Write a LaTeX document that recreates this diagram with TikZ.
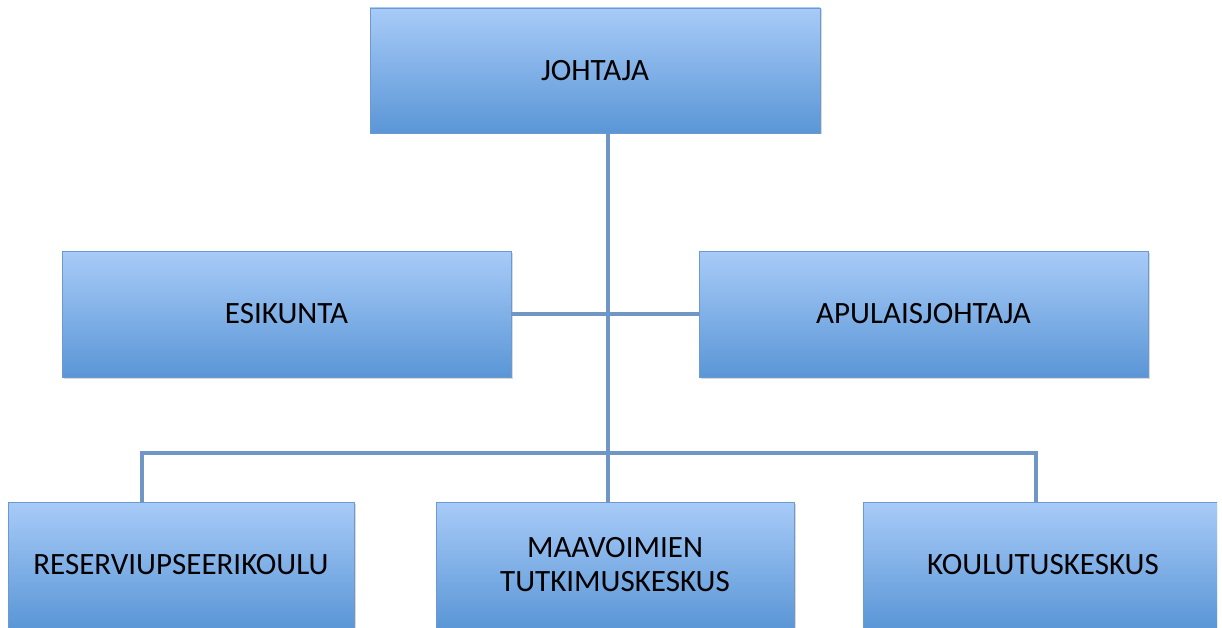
\documentclass[tikz,border=0pt]{standalone}
\usepackage{fontspec}
\setmainfont{Carlito}
\usetikzlibrary{shadows}
\definecolor{boxtop}{HTML}{A8CBF8}
\definecolor{boxbot}{HTML}{5A96D6}
\definecolor{boxline}{HTML}{6C9AD0}
\definecolor{conn}{HTML}{7096C6}
\tikzset{
  orgbox/.style={rectangle, draw=boxline, line width=0.8pt, top color=boxtop, bottom color=boxbot,
    drop shadow={shadow xshift=1.5pt, shadow yshift=-1.5pt, opacity=0.3},
    align=center, font=\fontsize{31}{34}\selectfont, text=black, inner sep=0pt},
  conline/.style={draw=conn, line width=3.5pt}
}
\begin{document}
\begin{tikzpicture}[x=1pt,y=-1pt]
\useasboundingbox (0,0) rectangle (1222,628);
\clip (0,0) rectangle (1217,628);
\node[orgbox, minimum width=450pt, minimum height=125pt] (J) at (595,70.5) {JOHTAJA};
\node[orgbox, minimum width=449pt, minimum height=126pt] (E) at (286.5,314) {ESIKUNTA};
\node[orgbox, minimum width=449pt, minimum height=126pt] (A) at (923.5,314) {APULAISJOHTAJA};
\node[orgbox, minimum width=346pt, minimum height=126pt] (R) at (181,565) {RESERVIUPSEERIKOULU};
\node[orgbox, minimum width=358pt, minimum height=126pt] (M) at (615,565) {MAAVOIMIEN\\TUTKIMUSKESKUS};
\node[orgbox, minimum width=360pt, minimum height=126pt] (K) at (1043,565) {KOULUTUSKESKUS};
\coordinate (bus) at (608,453);
\coordinate (Jb) at (608,133);
\coordinate (Mt) at (608,502);
\coordinate (Rt) at (142,502);
\coordinate (Kt) at (1036,502);
\draw[conline] (Jb) -- (Mt);
\draw[conline] (E.east) -- (A.west);
\draw[conline] (Rt) |- (bus) -| (Kt);
\end{tikzpicture}
\end{document}
